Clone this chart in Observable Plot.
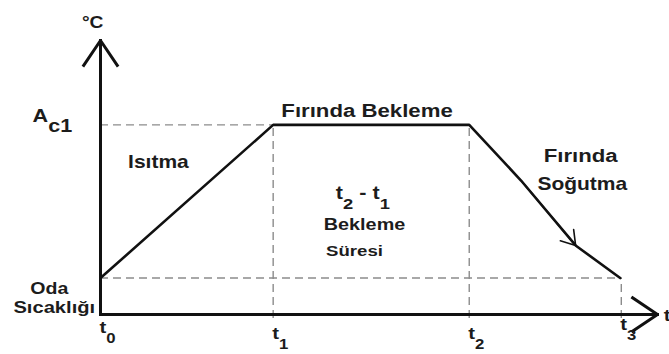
<!DOCTYPE html>
<html>
<head>
<meta charset="utf-8">
<script src="https://cdn.jsdelivr.net/npm/d3@7"></script>
<script src="https://cdn.jsdelivr.net/npm/@observablehq/plot@0.6"></script>
<style>
  body { margin: 0; background: #fff; }
  #chart svg { display: block; overflow: visible; }
</style>
</head>
<body>
<div id="chart"></div>
<script>
// Annealing cycle sketch: time (arbitrary units) against temperature level (arbitrary units).
const stageTimes = [0, 31, 66.2, 93.5];           // t0, t1, t2, t3
const tickNames = ["t_0", "t_1", "t_2", "t_3"];
const tickLabelLevels = [-6.9, -9.0, -9.0, -5.8];
const roomLevel = 13.3;                           // room temperature
const ac1Level = 69.2;                            // Ac1 critical temperature
// furnace cooling segment after t2
const coolTimes = [66.2, 75.5, 85.3, 93.3];
const coolLevels = [69.2, 48.9, 25.2, 13.3];

// full temperature profile: heating, holding, furnace cooling
const profile = [
  {t: stageTimes[0], T: roomLevel},
  {t: stageTimes[1], T: ac1Level},
  ...coolTimes.map((t, i) => ({t, T: coolLevels[i]}))
];

// text annotations ("_x" or "_{xy}" marks a subscript)
const notes = [
  {text: "°C", t: -1.4, T: 104.7, size: 16, anchor: "middle"},
  {text: "A_{c1}", t: -12.2, T: 70.1, size: 18, anchor: "start", sub: 1, shift: 0.55},
  {text: "Isıtma", t: 10.4, T: 53.3, size: 17.5, anchor: "middle"},
  {text: "Fırında Bekleme", t: 47.85, T: 71.9, size: 18.5, anchor: "middle"},
  {text: "t_2 - t_1", t: 47.1, T: 42.3, size: 18, anchor: "middle", sub: 0.85, shift: 0.55},
  {text: "Bekleme", t: 47.4, T: 30.7, size: 16.5, anchor: "middle"},
  {text: "Süresi", t: 45.6, T: 21.5, size: 15.5, anchor: "middle"},
  {text: "Fırında", t: 86.2, T: 55.5, size: 18.5, anchor: "middle"},
  {text: "Soğutma", t: 86.5, T: 45.3, size: 17.5, anchor: "middle"},
  {text: "Oda", t: -9.2, T: 7.3, size: 16.3, anchor: "middle"},
  {text: "Sıcaklığı", t: -8.3, T: 0.7, size: 16.8, anchor: "middle"},
  {text: "t", t: 101.1, T: -2.2, size: 17, anchor: "start"},
  ...tickNames.map((text, i) => ({text, t: stageTimes[i], T: tickLabelLevels[i], size: 17, anchor: "start", sub: 0.82, shift: 0.58, dx: -1}))
];

const ink = "#1c1c1c";
const guide = {stroke: "#8c8c8c", strokeWidth: 1.4, strokeDasharray: "8,5"};

const textMarks = notes.map((d) => Plot.text([d], {
  x: "t", y: "T", text: "text",
  fontSize: d.size, fontWeight: "bold", fontFamily: "Liberation Sans, Arial, sans-serif",
  textAnchor: d.anchor, lineAnchor: "bottom", fill: ink, dx: d.dx || 0
}));

const chart = Plot.plot({
  width: 669,
  height: 354,
  marginLeft: 100,
  marginRight: 12,
  marginTop: 40,
  marginBottom: 40,
  x: {domain: [0, 100], axis: null},
  y: {domain: [0, 100], axis: null},
  style: {background: "#fff"},
  marks: [
    // dashed reference lines
    Plot.ruleY([ac1Level], {x1: 0, x2: stageTimes[1], ...guide}),
    Plot.ruleY([roomLevel], {x1: 0, x2: stageTimes[3], ...guide}),
    Plot.ruleX(stageTimes.slice(1, 3), {y1: -1.5, y2: ac1Level, ...guide}),
    Plot.ruleX([stageTimes[3]], {y1: -1.5, y2: roomLevel, ...guide}),
    // temperature profile
    Plot.line(profile, {x: "t", y: "T", stroke: "#111", strokeWidth: 2.6, strokeLinejoin: "round"}),
    // direction arrow on the cooling segment
    Plot.arrow([0], {
      x1: () => coolTimes[1], y1: () => coolLevels[1],
      x2: () => coolTimes[2], y2: () => coolLevels[2],
      stroke: "#111", strokeWidth: 1.6, headLength: 15, headAngle: 66
    }),
    // axes
    Plot.arrow([{x1: 0, y1: 0, x2: 0, y2: 100}, {x1: 0, y1: 0, x2: 100, y2: 0}], {
      x1: "x1", y1: "y1", x2: "x2", y2: "y2",
      stroke: "#111", strokeWidth: 3, headLength: 15, headAngle: 68, strokeLinecap: "square"
    }),
    ...textMarks
  ]
});

// subscripts and the slightly wide lettering
const NS = "http://www.w3.org/2000/svg";
const STRETCH = 1.2;
chart.querySelectorAll("text").forEach((el) => {
  const raw = el.textContent;
  const note = notes.find((n) => n.text === raw);
  if (note && raw.includes("_")) {
    const fs = note.size;
    const shift = fs * (note.shift || 0.5);
    const subSize = fs * (note.sub || 0.8);
    el.textContent = "";
    const re = /_\{([^}]*)\}|_(.)|([^_]+)/g;
    let m, lowered = false;
    while ((m = re.exec(raw))) {
      const span = document.createElementNS(NS, "tspan");
      if (m[3] != null) {
        span.textContent = m[3];
        if (lowered) { span.setAttribute("dy", -shift); lowered = false; }
      } else {
        span.textContent = m[1] != null ? m[1] : m[2];
        span.setAttribute("font-size", subSize);
        span.setAttribute("dy", shift);
        lowered = true;
      }
      el.appendChild(span);
    }
  }
  const tr = el.getAttribute("transform");
  if (tr) {
    el.setAttribute("transform", tr + ` scale(${STRETCH},1)`);
  } else {
    const x = +el.getAttribute("x") || 0;
    el.removeAttribute("x");
    el.setAttribute("transform", `translate(${x},0) scale(${STRETCH},1)`);
  }
});

document.getElementById("chart").appendChild(chart);
</script>
</body>
</html>
